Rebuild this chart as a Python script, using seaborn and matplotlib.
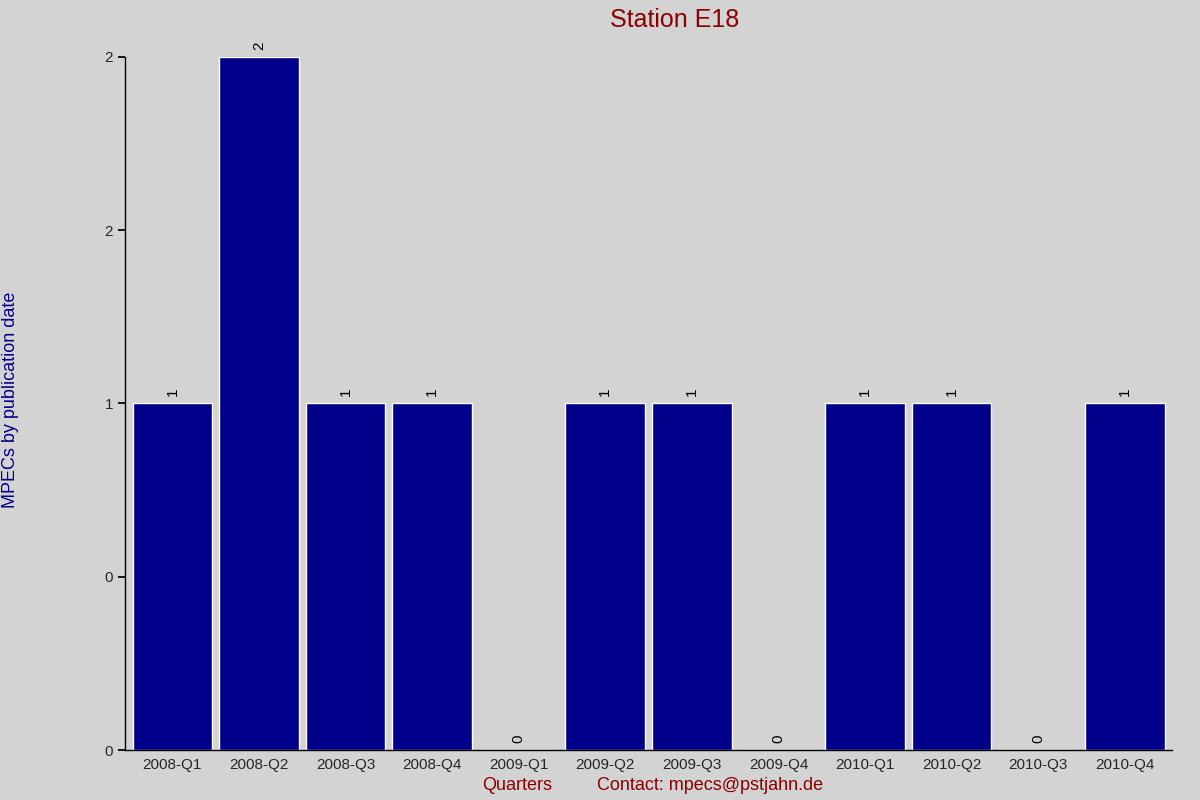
import matplotlib
matplotlib.use("Agg")
import matplotlib.pyplot as plt
import seaborn as sns
import pandas as pd

quarters = ["2008-Q1","2008-Q2","2008-Q3","2008-Q4","2009-Q1","2009-Q2","2009-Q3","2009-Q4","2010-Q1","2010-Q2","2010-Q3","2010-Q4"]
counts = [1,2,1,1,0,1,1,0,1,1,0,1]
yticks = [0,0.5,1,1.5,2]
ytick_labels = ["0","0","1","2","2"]

sns.set_theme(style="white")
plt.rcParams['font.family'] = ['Liberation Sans', 'DejaVu Sans']
bg = "#d3d3d3"
fig = plt.figure(figsize=(12,8), dpi=100, facecolor=bg)
ax = fig.add_axes([0.104, 0.0625, 0.873, 0.8665])
ax.set_facecolor(bg)
df = pd.DataFrame({"q": quarters, "n": counts})
sns.barplot(data=df, x="q", y="n", color="#00008b", saturation=1, width=0.92, ax=ax)
for i, v in enumerate(counts):
    ax.text(i, v + 0.02, str(v), rotation=90, ha="center", va="bottom", fontsize=11, color="black")
ax.set_ylim(0, 2)
ax.set_xlim(-0.55, 11.55)
ax.set_yticks(yticks)
ax.set_yticklabels(ytick_labels, fontsize=11)
ax.tick_params(axis="x", labelsize=11, length=0, pad=6)
ax.tick_params(axis="y", length=5, left=True, color="black")
for s in ["top", "right"]:
    ax.spines[s].set_visible(False)
for s in ["left", "bottom"]:
    ax.spines[s].set_color("black")
    ax.spines[s].set_linewidth(1)
ax.set_xlabel("")
ax.set_ylabel("")
fig.text(0.5625, 0.975, "Station E18", ha="center", va="center", fontsize=18, color="#8b0000")
fig.text(0.009, 0.5, "MPECs by publication date", rotation=90, ha="center", va="center", fontsize=13, color="#00008b")
fig.text(0.431, 0.0175, "Quarters", ha="center", va="center", fontsize=13, color="#8b0000")
fig.text(0.592, 0.0175, "Contact: mpecs@pstjahn.de", ha="center", va="center", fontsize=13, color="#8b0000")
fig.savefig("out.png", dpi=100, facecolor=bg)
